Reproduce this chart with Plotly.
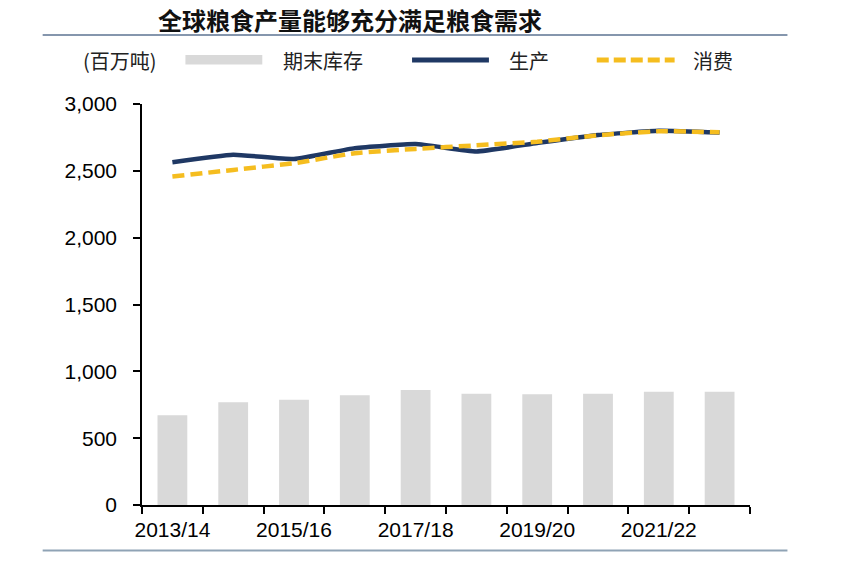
import plotly.graph_objects as go

seasons = ["2013/14", "2014/15", "2015/16", "2016/17", "2017/18",
           "2018/19", "2019/20", "2020/21", "2021/22", "2022/23"]
tick_text = ["2013/14", "", "2015/16", "", "2017/18", "", "2019/20", "", "2021/22", ""]
ending_stocks = [672, 768, 788, 822, 860, 833, 828, 832, 848, 848]
production = [2564, 2620, 2588, 2670, 2700, 2645, 2708, 2768, 2800, 2786]
consumption = [2457, 2507, 2557, 2632, 2664, 2691, 2718, 2766, 2796, 2788]

NAVY = "#1f3864"
GOLD = "#f5bd1f"
GRAY = "#d9d9d9"
CJK = "Noto Sans CJK SC"
LAT = "Liberation Sans, Arial, sans-serif"

W, H = 851, 561
# plot-area position in page pixels
PL, PR, PT, PB = 141.5, 750.5, 104, 505.5
L, T = PL, PT
R, B = W - PR, H - PB

fig = go.Figure()
fig.add_bar(x=seasons, y=ending_stocks, name="期末库存", marker_color=GRAY,
            marker_line_width=0, width=0.49)
fig.add_scatter(x=seasons, y=production, name="生产", mode="lines",
                line=dict(color=NAVY, width=4.5, shape="spline", smoothing=0.4))
fig.add_scatter(x=seasons, y=consumption, name="消费", mode="lines",
                line=dict(color=GOLD, width=4.5, dash="12px,6px", shape="spline", smoothing=0.4))


def xp(p):
    return (p - PL) / (PR - PL)


def yp(p):
    return (PB - p) / (PB - PT)


shapes = [
    dict(type="line", xref="paper", yref="paper", x0=xp(42), x1=xp(788),
         y0=yp(35), y1=yp(35), line=dict(color="#8596ad", width=2)),
    dict(type="line", xref="paper", yref="paper", x0=xp(42), x1=xp(788),
         y0=yp(551), y1=yp(551), line=dict(color="#8fa3b5", width=2)),
]

legend_y = 60
shapes += [
    dict(type="rect", xref="paper", yref="paper", x0=xp(185), x1=xp(262),
         y0=yp(64.5), y1=yp(55), fillcolor=GRAY, line_width=0),
    dict(type="line", xref="paper", yref="paper", x0=xp(412), x1=xp(489),
         y0=yp(legend_y), y1=yp(legend_y), line=dict(color=NAVY, width=5)),
    dict(type="line", xref="paper", yref="paper", x0=xp(597), x1=xp(675),
         y0=yp(legend_y), y1=yp(legend_y), line=dict(color=GOLD, width=5, dash="12px,5px")),
]

legend_font = dict(family=CJK, size=20, color="#222222")
annotations = [
    dict(text="<b>全球粮食产量能够充分满足粮食需求</b>", xref="paper", yref="paper",
         x=xp(156), y=yp(19), xanchor="left", yanchor="middle", showarrow=False,
         font=dict(family=CJK, size=24, color="#111111")),
    dict(text="(百万吨)", xref="paper", yref="paper", x=xp(80), y=yp(60),
         xanchor="left", yanchor="middle", showarrow=False, font=legend_font),
    dict(text="期末库存", xref="paper", yref="paper", x=xp(281), y=yp(60),
         xanchor="left", yanchor="middle", showarrow=False, font=legend_font),
    dict(text="生产", xref="paper", yref="paper", x=xp(507), y=yp(60),
         xanchor="left", yanchor="middle", showarrow=False, font=legend_font),
    dict(text="消费", xref="paper", yref="paper", x=xp(691), y=yp(60),
         xanchor="left", yanchor="middle", showarrow=False, font=legend_font),
]

fig.update_layout(
    width=W, height=H,
    margin=dict(l=L, r=R, t=T, b=B, pad=0),
    paper_bgcolor="white", plot_bgcolor="white",
    showlegend=False,
    shapes=shapes, annotations=annotations,
)
fig.update_xaxes(
    type="category", tickmode="array", tickvals=seasons, ticktext=tick_text,
    tickson="boundaries", ticks="outside", ticklen=7, tickwidth=1.5, tickcolor="black",
    showline=True, linecolor="black", linewidth=1.5, showgrid=False,
    tickfont=dict(family=LAT, size=21, color="black"), tickangle=0,
    range=[-0.5, 9.5], automargin=False, ticklabelstandoff=5,
)
fig.update_yaxes(
    range=[0, 3000], tickmode="array", tickvals=[0, 500, 1000, 1500, 2000, 2500, 3000],
    ticktext=["0", "500", "1,000", "1,500", "2,000", "2,500", "3,000"],
    ticks="outside", ticklen=7, tickwidth=1.5, tickcolor="black",
    showline=True, linecolor="black", linewidth=1.5, showgrid=False, zeroline=False,
    tickfont=dict(family=LAT, size=21, color="black"), ticklabelstandoff=12,
    automargin=False,
)

fig.write_html(
    "out.html",
    config={"displayModeBar": False},
    post_script="document.body.style.margin='0';document.body.style.overflow='hidden';",
)
